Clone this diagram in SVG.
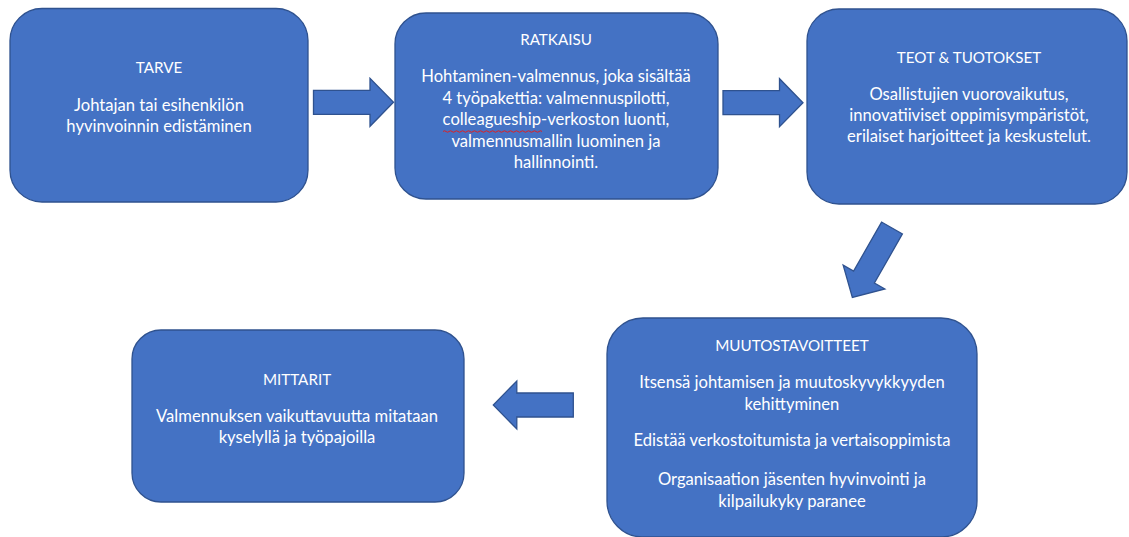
<svg xmlns="http://www.w3.org/2000/svg" width="1129" height="537" viewBox="0 0 1129 537">
  <defs>
    <style>
      .box { fill: #4472C4; stroke: #2F528F; stroke-width: 1.3; }
      .arrow { fill: #4472C4; stroke: #2F528F; stroke-width: 1.3; stroke-linejoin: miter; }
      text { font-family: Lato, "Open Sans", "Liberation Sans", sans-serif; font-size: 16.6px; fill: #FFFFFF; text-anchor: middle; }
      text.title { font-size: 15.2px; }
      .spell { fill: none; stroke: #E02020; stroke-width: 1; }
    </style>
    <path id="blockArrow" d="M0,-12 L56.5,-12 L56.5,-24 L80,0 L56.5,24 L56.5,12 L0,12 Z"/>
  </defs>
  <rect width="1129" height="537" fill="#FFFFFF"/>

  <g id="connectors">
    <use href="#blockArrow" class="arrow" transform="translate(313.5,102.3)"/>
    <use href="#blockArrow" class="arrow" transform="translate(723,102.7)"/>
    <use href="#blockArrow" class="arrow" transform="translate(892,228) rotate(119.7)"/>
    <use href="#blockArrow" class="arrow" transform="translate(573.3,405) rotate(180)"/>
  </g>

  <g id="tarve">
    <rect class="box" x="10" y="8.5" width="298" height="193.5" rx="32" ry="32"/>
    <text class="title" x="159" y="73">TARVE</text>
    <text x="159" y="111">Johtajan tai esihenkilön</text>
    <text x="159" y="132">hyvinvoinnin edistäminen</text>
  </g>

  <g id="ratkaisu">
    <rect class="box" x="395" y="13" width="323" height="186" rx="31" ry="31"/>
    <text class="title" x="556" y="45">RATKAISU</text>
    <text x="556" y="82">Hohtaminen-valmennus, joka sisältää</text>
    <text x="556" y="103.5">4 työpakettia: valmennuspilotti,</text>
    <text x="556" y="125">colleagueship-verkoston luonti,</text>
    <text x="556" y="146.5">valmennusmallin luominen ja</text>
    <text x="556" y="168">hallinnointi.</text>
    <path class="spell" d="M443,131.5 q1.5,-1.5 3,0 t3,0 t3,0 t3,0 t3,0 t3,0 t3,0 t3,0 t3,0 t3,0 t3,0 t3,0 t3,0 t3,0 t3,0 t3,0 t3,0 t3,0 t3,0 t3,0 t3,0 t3,0 t3,0 t3,0 t3,0 t3,0 t3,0 t3,0 t3,0 t3,0 t3,0 t3,0 t3,0"/>
  </g>

  <g id="teot-tuotokset">
    <rect class="box" x="807" y="9" width="320" height="195" rx="32" ry="32"/>
    <text class="title" x="969" y="63">TEOT &amp; TUOTOKSET</text>
    <text x="969" y="100">Osallistujien vuorovaikutus,</text>
    <text x="969" y="121">innovatiiviset oppimisympäristöt,</text>
    <text x="969" y="142">erilaiset harjoitteet ja keskustelut.</text>
  </g>

  <g id="muutostavoitteet">
    <rect class="box" x="607" y="318" width="370" height="219" rx="36" ry="36"/>
    <text class="title" x="792" y="351">MUUTOSTAVOITTEET</text>
    <text x="792" y="388">Itsensä johtamisen ja muutoskyvykkyyden</text>
    <text x="792" y="409.5">kehittyminen</text>
    <text x="792" y="446">Edistää verkostoitumista ja vertaisoppimista</text>
    <text x="792" y="485">Organisaation jäsenten hyvinvointi ja</text>
    <text x="792" y="506.5">kilpailukyky paranee</text>
  </g>

  <g id="mittarit">
    <rect class="box" x="132" y="330" width="332" height="172" rx="29" ry="29"/>
    <text class="title" x="297" y="385">MITTARIT</text>
    <text x="297" y="421.5">Valmennuksen vaikuttavuutta mitataan</text>
    <text x="297" y="443">kyselyllä ja työpajoilla</text>
  </g>
</svg>
